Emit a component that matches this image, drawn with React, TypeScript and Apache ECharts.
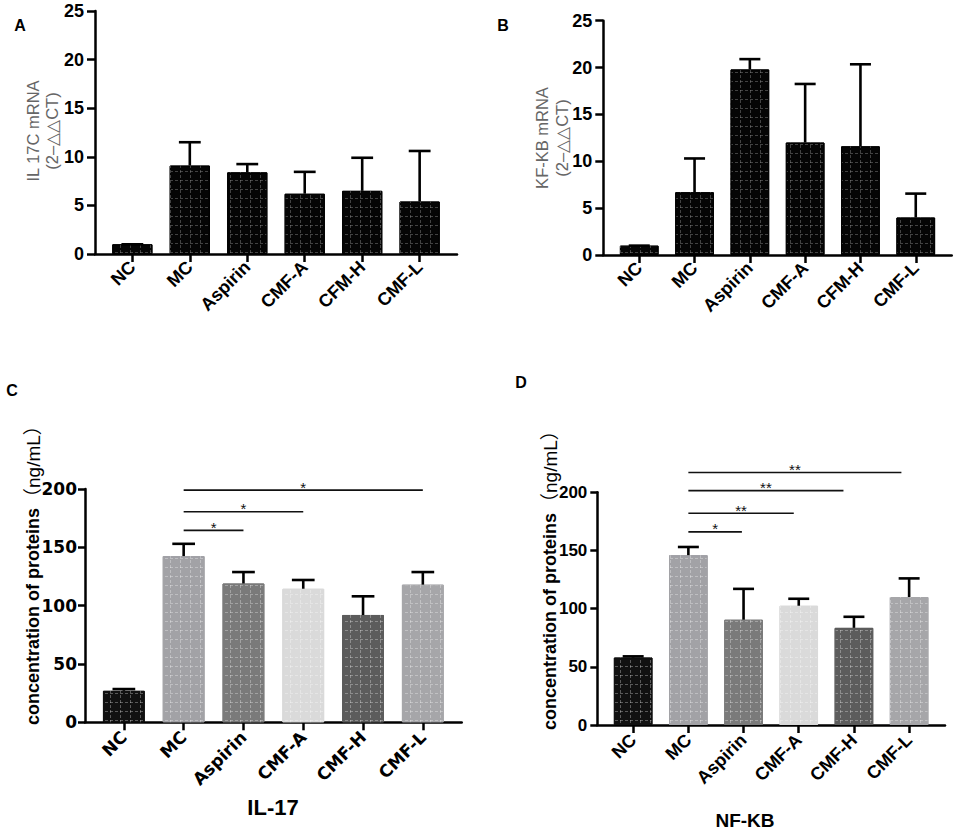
import React, { useEffect, useRef } from 'react';
import * as echarts from 'echarts';

// ---------- data ----------
const categoriesAB = ['NC', 'MC', 'Aspirin', 'CMF-A', 'CFM-H', 'CMF-L'];
const categoriesCD = ['NC', 'MC', 'Aspirin', 'CMF-A', 'CMF-H', 'CMF-L'];

const meanA = [1.0, 9.1, 8.4, 6.2, 6.5, 5.4];
const errTopA = [1.0, 11.5, 9.25, 8.45, 9.9, 10.6];

const meanB = [1.0, 6.7, 19.8, 12.0, 11.6, 4.0];
const errTopB = [1.0, 10.3, 20.9, 18.25, 20.35, 6.55];

const meanC = [27, 142.5, 119, 114.5, 92, 118];
const errTopC = [28.5, 153, 128.8, 122, 108, 128.8];

const meanD = [58, 146, 90.5, 102.5, 83.5, 110];
const errTopD = [59, 153, 117, 108.5, 93, 126];

const sigStartC = [1, 1, 1];
const sigEndC = [5, 3, 2];
const sigYC = [199, 180.5, 164.5];
const sigLabelC = ['*', '*', '*'];

const sigStartD = [1, 1, 1, 1];
const sigEndD = [4.86, 3.81, 2.91, 1.97];
const sigYD = [217, 201.5, 182, 166];
const sigLabelD = ['**', '**', '**', '*'];

const yTicksAB = { min: 0, max: 25, interval: 5 };
const yTicksCD = { min: 0, max: 200, interval: 50 };

const barColorsCD = ['#111111', '#a2a2a6', '#7a7a7a', '#dadada', '#5c5c5c', '#a6a6a9'];

const yNameA = 'IL 17C mRNA\n(2–△△CT)';
const yNameB = 'KF-KB mRNA\n(2–△△CT)';
const yNameCDMain = 'concentration of proteins';
const yNameCDUnit = '（ng/mL）';
const titleC = 'IL-17';
const titleD = 'NF-KB';

// ---------- layout / style ----------
const FONT = "'Liberation Sans', Arial, sans-serif";
const FONT_WIDE = "'DejaVu Sans', 'Liberation Sans', sans-serif";
const FONT_UNIT = "'Liberation Sans', 'Noto Sans CJK SC', sans-serif";
const grids = [
  { left: 95, top: 11, width: 362, height: 243 },
  { left: 603.3, top: 20.7, width: 348.4, height: 234.3 },
  { left: 85, top: 489, width: 376.7, height: 233.3 },
  { left: 597.3, top: 492.3, width: 347.7, height: 232.7 },
];
const X_MIN = -0.65;
const X_MAX = 5.65;
const IDX = [0, 1, 2, 3, 4, 5];

function makeXAxis(gi: number, cats: string[], margin: number, font: string, size: number) {
  return {
    type: 'value',
    gridIndex: gi,
    min: X_MIN,
    max: X_MAX,
    splitLine: { show: false },
    axisLine: { show: true, onZero: false, lineStyle: { color: '#000', width: 2.5 } },
    axisTick: { show: true, customValues: IDX, length: 8, lineStyle: { color: '#000', width: 2.5 } },
    axisLabel: {
      customValues: IDX,
      formatter: (v: number) => cats[Math.round(v)] ?? '',
      rotate: 45,
      margin,
      fontSize: size,
      fontWeight: 'bold',
      color: '#000',
      fontFamily: font,
    },
  };
}

function makeYAxis(
  gi: number,
  t: { min: number; max: number; interval: number },
  tickLen: number,
  margin: number,
  font: string,
  size: number
) {
  return {
    type: 'value',
    gridIndex: gi,
    min: t.min,
    max: t.max,
    interval: t.interval,
    splitLine: { show: false },
    axisLine: { show: true, onZero: false, lineStyle: { color: '#000', width: 2.5 } },
    axisTick: { show: true, length: tickLen, lineStyle: { color: '#000', width: 2.5 } },
    axisLabel: { margin, fontSize: size, fontWeight: 'bold', color: '#000', fontFamily: font },
  };
}

function hDecal(color: string) {
  return { symbol: 'rect', symbolSize: 1, symbolKeepAspect: false, dashArrayX: [3, 2], dashArrayY: [1, 8], color };
}
function vDecal(color: string) {
  return { symbol: 'rect', symbolSize: 1, symbolKeepAspect: false, dashArrayX: [1, 9], dashArrayY: [3, 2], color };
}

function barSeries(gi: number, mean: number[], colors: string[] | null, decalColor: string) {
  const main = {
    type: 'bar',
    xAxisIndex: gi,
    yAxisIndex: gi,
    barWidth: '70%',
    barGap: '-100%',
    silent: true,
    data: mean.map((m, k) => ({
      value: [k, m],
      itemStyle: {
        color: colors ? colors[k] : '#050505',
        borderColor: colors ? colors[k] : '#000',
        borderWidth: 1,
        decal: hDecal(decalColor),
      },
    })),
  };
  const overlay = {
    type: 'bar',
    xAxisIndex: gi,
    yAxisIndex: gi,
    barWidth: '70%',
    barGap: '-100%',
    silent: true,
    data: mean.map((m, k) => ({
      value: [k, m],
      itemStyle: { color: 'rgba(0,0,0,0)', decal: vDecal(decalColor) },
    })),
  };
  return [main, overlay];
}

function errSeries(gi: number, mean: number[], top: number[]) {
  return {
    type: 'custom',
    xAxisIndex: gi,
    yAxisIndex: gi,
    silent: true,
    z: 5,
    encode: { x: 0, y: [1, 2] },
    data: mean.map((m, k) => [k, m, top[k]]),
    renderItem: (params: any, api: any) => {
      const x = api.value(0);
      const p0 = api.coord([x, api.value(1)]);
      const p1 = api.coord([x, api.value(2)]);
      const half = api.size([1, 0])[0] * 0.19;
      return {
        type: 'group',
        children: [
          { type: 'line', shape: { x1: p0[0], y1: p0[1], x2: p1[0], y2: p1[1] }, style: { stroke: '#000', lineWidth: 2.6 } },
          { type: 'line', shape: { x1: p1[0] - half, y1: p1[1], x2: p1[0] + half, y2: p1[1] }, style: { stroke: '#000', lineWidth: 2.6 } },
        ],
      };
    },
  };
}

function sigSeries(gi: number, s: number[], e: number[], y: number[], labels: string[]) {
  return {
    type: 'custom',
    xAxisIndex: gi,
    yAxisIndex: gi,
    silent: true,
    clip: false,
    z: 6,
    encode: { x: [0, 1], y: 2 },
    data: s.map((v, k) => [v, e[k], y[k]]),
    renderItem: (params: any, api: any) => {
      const a = api.coord([api.value(0), api.value(2)]);
      const b = api.coord([api.value(1), api.value(2)]);
      return {
        type: 'group',
        children: [
          { type: 'line', shape: { x1: a[0], y1: a[1], x2: b[0], y2: b[1] }, style: { stroke: '#111', lineWidth: 1.7 } },
          {
            type: 'text',
            x: (a[0] + b[0]) / 2,
            y: a[1] - 3,
            style: {
              text: labels[params.dataIndex],
              fontSize: 15,
              fontFamily: FONT,
              fill: '#111',
              align: 'center',
              verticalAlign: 'middle',
            },
          },
        ],
      };
    },
  };
}

// rotated text (reads bottom-to-top); align controls which end is anchored at (x, y)
function rotText(x: number, y: number, text: string, align: string, extra: any) {
  return {
    type: 'text',
    x,
    y,
    rotation: Math.PI / 2,
    style: { text, align, verticalAlign: 'middle', textAlign: align, textVerticalAlign: 'middle', fontFamily: FONT, ...extra },
  };
}

function plainText(x: number, y: number, text: string, size: number) {
  return {
    type: 'text',
    x,
    y,
    style: {
      text,
      align: 'center',
      verticalAlign: 'middle',
      textAlign: 'center',
      textVerticalAlign: 'middle',
      fontFamily: FONT,
      fontWeight: 'bold',
      fontSize: size,
      fill: '#000',
    },
  };
}

export default function App() {
  const ref = useRef<HTMLDivElement>(null);
  useEffect(() => {
    if (!ref.current) return;
    const chart = echarts.init(ref.current, null, { renderer: 'svg' });
    const mainStyle = { fontWeight: 'bold', fontSize: 18, fill: '#000' };
    const unitStyle = { fontWeight: 'normal', fontSize: 19, fill: '#000', fontFamily: FONT_UNIT };
    const option: any = {
      animation: false,
      backgroundColor: '#fff',
      grid: grids.map((g) => ({ ...g, containLabel: false })),
      xAxis: [
        makeXAxis(0, categoriesAB, 10, FONT, 18),
        makeXAxis(1, categoriesAB, 10, FONT, 18),
        makeXAxis(2, categoriesCD, 12, FONT_WIDE, 17),
        makeXAxis(3, categoriesCD, 12, FONT, 18),
      ],
      yAxis: [
        makeYAxis(0, yTicksAB, 8, 11, FONT, 18),
        makeYAxis(1, yTicksAB, 8, 11, FONT, 18),
        makeYAxis(2, yTicksCD, 7, 8, FONT_WIDE, 17),
        makeYAxis(3, yTicksCD, 7, 10, FONT, 17),
      ],
      series: [
        ...barSeries(0, meanA, null, 'rgba(150,150,150,0.42)'),
        errSeries(0, meanA, errTopA),
        ...barSeries(1, meanB, null, 'rgba(150,150,150,0.42)'),
        errSeries(1, meanB, errTopB),
        ...barSeries(2, meanC, barColorsCD, 'rgba(255,255,255,0.3)'),
        errSeries(2, meanC, errTopC),
        sigSeries(2, sigStartC, sigEndC, sigYC, sigLabelC),
        ...barSeries(3, meanD, barColorsCD, 'rgba(255,255,255,0.3)'),
        errSeries(3, meanD, errTopD),
        sigSeries(3, sigStartD, sigEndD, sigYD, sigLabelD),
      ],
      graphic: [
        plainText(20, 25, 'A', 16),
        plainText(503, 25, 'B', 16),
        plainText(12, 390, 'C', 16),
        plainText(521, 382, 'D', 16),
        rotText(42.5, 131, yNameA, 'center', { fontSize: 16.5, lineHeight: 19, fill: '#666' }),
        rotText(551.7, 138, yNameB, 'center', { fontSize: 16.5, lineHeight: 20, fill: '#666' }),
        // main part anchored at its bottom end, unit part continues above it
        rotText(33, 725, yNameCDMain, 'left', mainStyle),
        rotText(33, 507, yNameCDUnit, 'left', unitStyle),
        rotText(550, 730, yNameCDMain, 'left', mainStyle),
        rotText(550, 512, yNameCDUnit, 'left', unitStyle),
        plainText(273, 807, titleC, 22),
        plainText(745, 820, titleD, 19),
      ],
    };
    chart.setOption(option);
    return () => chart.dispose();
  }, []);
  return <div ref={ref} style={{ position: 'absolute', left: 0, top: 0, width: 957, height: 833 }} />;
}
